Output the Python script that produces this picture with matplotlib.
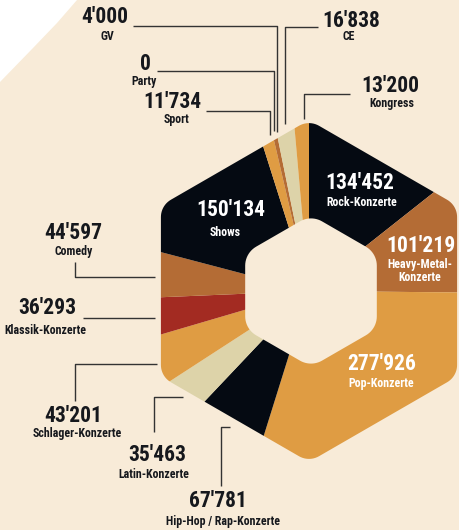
import numpy as np
import matplotlib.pyplot as plt
from matplotlib.patches import Polygon, PathPatch
from matplotlib.path import Path

# data
categories = ["Rock-Konzerte", "Heavy-Metal-\nKonzerte", "Pop-Konzerte",
              "Hip-Hop / Rap-Konzerte", "Latin-Konzerte", "Schlager-Konzerte",
              "Klassik-Konzerte", "Comedy", "Shows", "Sport", "Party", "GV",
              "CE", "Kongress"]
values = [134452, 101219, 277926, 67781, 35463, 43201, 36293, 44597,
          150134, 11734, 0, 4000, 16838, 13200]

# colours
BG = '#f8ebd8'
BLACK = '#050a12'
BROWN = '#b46c35'
ORANGE = '#df9c43'
SAND = '#ddd3a9'
RED = '#a32b22'
INK = '#16181d'
slice_colors = [BLACK, BROWN, ORANGE, BLACK, SAND, ORANGE, RED, BROWN,
                BLACK, ORANGE, BROWN, BROWN, SAND, ORANGE]

# layout (pixel coords, y down): number pos, name pos, leader line
inside = [True, True, True, False, False, False, False, False, True,
          False, False, False, False, False]
num_xy = [(360, 183), (421, 246), (382, 364), (218, 501), (157, 455),
          (73, 416), (47, 308), (73, 233), (231, 210), (172, 102),
          (145, 64), (105, 17), (351, 21), (390, 86)]
name_xy = [(362, 202), (420, 271), (381, 383), (223, 522), (154, 474),
           (77, 434), (45, 330), (74, 251), (225, 232), (177, 119),
           (144, 81), (107, 36), (349, 37), (392, 103)]
leaders = [None, None, None,
           [(230, 427), (221, 427), (221, 486)],
           [(183, 397), (154, 397), (154, 432)],
           [(157, 364), (75, 364), (75, 401)],
           [(83, 318), (155, 318)],
           [(75, 262), (75, 277), (155, 277)],
           None,
           [(206, 111), (270, 111), (270, 135)],
           [(157, 71), (274, 71), (274, 131)],
           [(133, 26), (277, 26), (277, 132)],
           [(318, 27), (285, 27), (285, 124)],
           [(350, 94), (304, 94), (304, 119)]]

FONT = ['Roboto Condensed', 'DejaVu Sans']


def rounded_hex(cx, cy, R, r, n=12):
    pts = []
    d = R - r / np.sin(np.pi / 3)
    for k in range(6):
        a = np.deg2rad(-90 + 60 * k)
        ox, oy = cx + d * np.cos(a), cy + d * np.sin(a)
        for t in np.linspace(a - np.pi / 6, a + np.pi / 6, n):
            pts.append((ox + r * np.cos(t), oy + r * np.sin(t)))
    return pts


fig = plt.figure(figsize=(4.59, 5.30), dpi=100)
fig.patch.set_facecolor(BG)
ax = fig.add_axes([0, 0, 1, 1])

wedges, _ = ax.pie(values, colors=slice_colors, center=(309, 291), radius=260,
                   startangle=-90, counterclock=True,
                   wedgeprops=dict(linewidth=0))

ax.set_xlim(0, 459)
ax.set_ylim(530, 0)
ax.set_aspect('auto')
ax.axis('off')

# mask everything outside the outer hexagon
hexpts = rounded_hex(309, 291, 171, 20)[::-1]
rect = [(-50, -50), (509, -50), (509, 580), (-50, 580)]
verts = rect + [rect[0]] + hexpts + [hexpts[0]]
codes = ([Path.MOVETO] + [Path.LINETO] * 3 + [Path.CLOSEPOLY] +
         [Path.MOVETO] + [Path.LINETO] * (len(hexpts) - 1) + [Path.CLOSEPOLY])
ax.add_patch(PathPatch(Path(verts, codes), fc=BG, ec='none', zorder=2))

# hole
ax.add_patch(Polygon(rounded_hex(311, 291, 76, 22), closed=True,
                     fc=BG, ec='none', zorder=5))

# white corner top-left
ax.add_patch(Polygon([(0, 0), (77, 0), (57, 23), (33, 48), (0, 82)],
                     closed=True, fc='white', ec='none', zorder=3))

for i, name in enumerate(categories):
    col = 'white' if inside[i] else INK
    num = f"{values[i]:,}".replace(",", "'")
    ax.text(*num_xy[i], num, ha='center', va='center', fontsize=15.5,
            fontweight='bold', color=col, family=FONT, zorder=6)
    ax.text(*name_xy[i], name, ha='center', va='center', fontsize=8.6,
            fontweight='bold', color=col, family=FONT, linespacing=1.0,
            zorder=6)
    if leaders[i] is not None:
        xs, ys = zip(*leaders[i])
        ax.plot(xs, ys, color='#333333', lw=1.0, zorder=4,
                solid_capstyle='butt')

fig.savefig('out.png', dpi=100, facecolor=BG)
